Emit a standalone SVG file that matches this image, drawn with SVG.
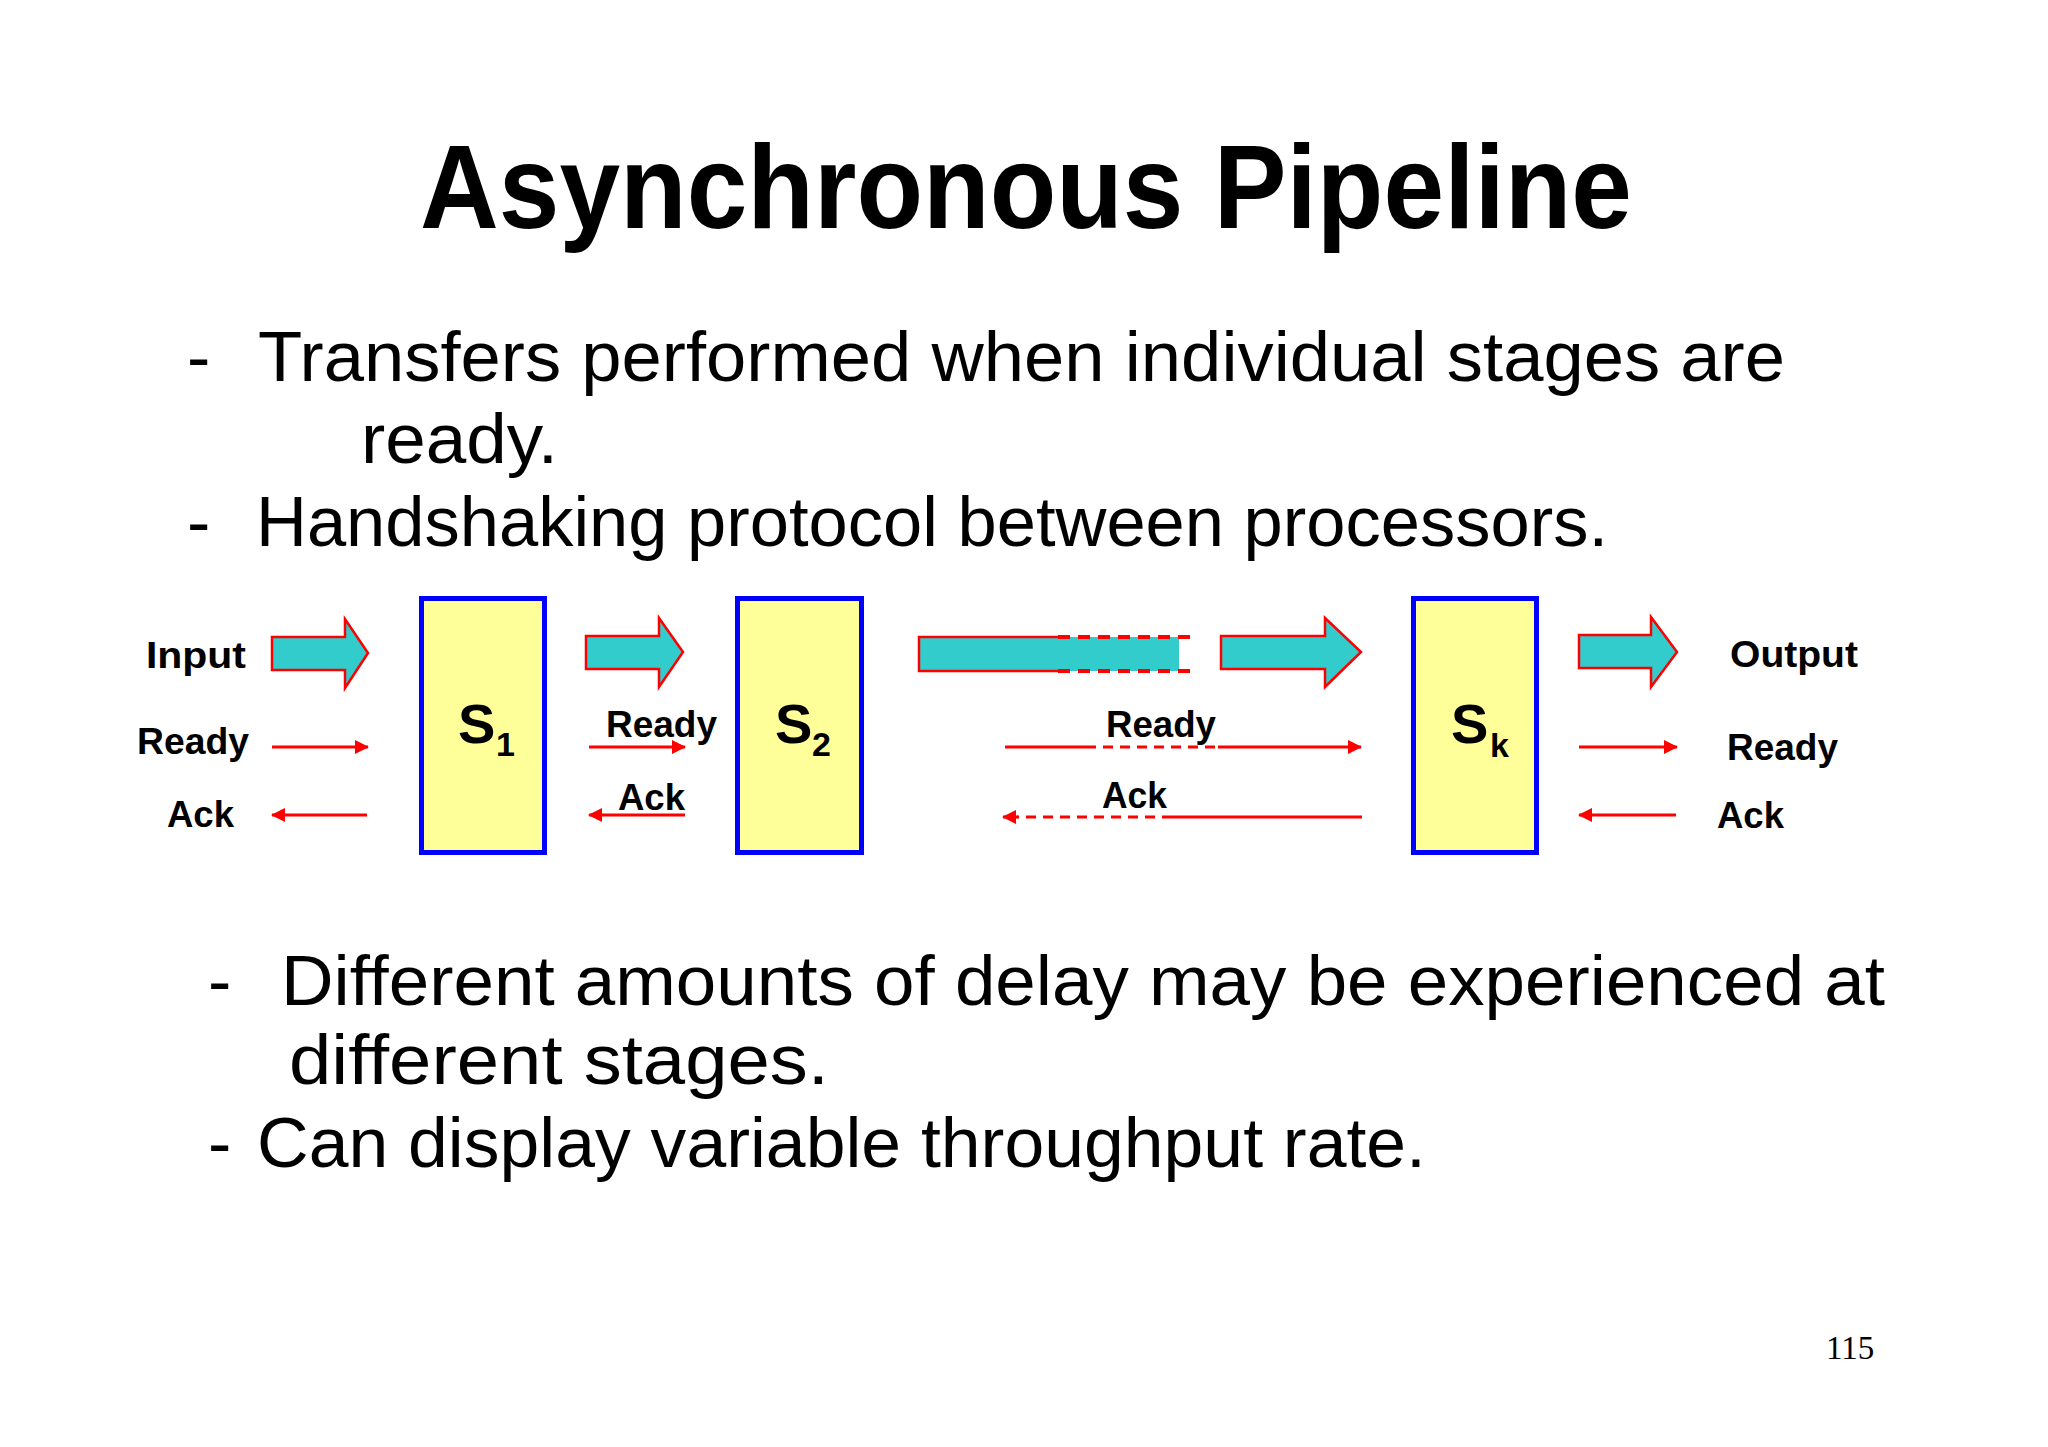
<svg xmlns="http://www.w3.org/2000/svg" width="2048" height="1447" viewBox="0 0 2048 1447">
<defs>
<style>
.title{font-family:"Liberation Sans",Arial,sans-serif;font-weight:bold;font-size:119px;fill:#000}
.body{font-family:"Liberation Sans",Arial,sans-serif;font-size:70px;fill:#000}
.lbl{font-family:"Liberation Sans",Arial,sans-serif;font-weight:bold;font-size:36px;fill:#000}
.sl{font-family:"Liberation Sans",Arial,sans-serif;font-weight:bold;font-size:56px;fill:#000}
.sub{font-size:34px}
.stage{fill:#FFFF99;stroke:#0000FF;stroke-width:5}
.fat{fill:#33CCCC;stroke:#FF0000;stroke-width:2.5;stroke-linejoin:miter}
.wire{stroke:#FF0000;stroke-width:3;fill:none}
.dash{stroke:#FF0000;stroke-width:3;fill:none;stroke-dasharray:10 7}
.bardash{stroke:#FF0000;stroke-width:4;fill:none;stroke-dasharray:12 8}
.pg{font-family:"Liberation Serif","Times New Roman",serif;font-size:33px;fill:#000}
</style>
<marker id="ah" markerUnits="userSpaceOnUse" markerWidth="14" markerHeight="14" refX="13" refY="7" orient="auto">
<path d="M0,0 L14,7 L0,14 Z" fill="#FF0000"/>
</marker>
</defs>
<rect width="2048" height="1447" fill="#FFFFFF"/>

<g id="title">
<text class="title" x="420" y="228" textLength="1212" lengthAdjust="spacingAndGlyphs">Asynchronous Pipeline</text>
</g>

<g id="bullets-top">
<text class="body" x="187" y="381">-</text>
<text class="body" x="258" y="381" textLength="1527" lengthAdjust="spacingAndGlyphs">Transfers performed when individual stages are</text>
<text class="body" x="361" y="463" textLength="197" lengthAdjust="spacingAndGlyphs">ready.</text>
<text class="body" x="187" y="546">-</text>
<text class="body" x="256" y="546" textLength="1352" lengthAdjust="spacingAndGlyphs">Handshaking protocol between processors.</text>
</g>

<g id="connectors">
<polygon class="fat" points="272,637 345,637 345,619 368,653 345,688 345,670 272,670"/>
<polygon class="fat" points="586,636 659,636 659,618 683,652 659,687 659,669 586,669"/>
<rect x="919" y="637" width="260" height="34" fill="#33CCCC"/>
<path class="fat" style="fill:none" d="M1058,637 H919 V671 H1058"/>
<path class="bardash" d="M1058,637 H1192 M1058,671 H1192"/>
<polygon class="fat" points="1221,636 1325,636 1325,618 1361,652 1325,687 1325,669 1221,669"/>
<polygon class="fat" points="1579,635 1651,635 1651,617 1677,652 1651,687 1651,668 1579,668"/>
<line class="wire" x1="272" y1="747" x2="368" y2="747" marker-end="url(#ah)"/>
<line class="wire" x1="367" y1="815" x2="272" y2="815" marker-end="url(#ah)"/>
<line class="wire" x1="589" y1="747" x2="685" y2="747" marker-end="url(#ah)"/>
<line class="wire" x1="685" y1="815" x2="589" y2="815" marker-end="url(#ah)"/>
<line class="wire" x1="1005" y1="747" x2="1086" y2="747"/>
<line class="dash" x1="1086" y1="747" x2="1218" y2="747"/>
<line class="wire" x1="1218" y1="747" x2="1361" y2="747" marker-end="url(#ah)"/>
<line class="wire" x1="1362" y1="817" x2="1172" y2="817"/>
<line class="dash" x1="1172" y1="817" x2="1017" y2="817"/>
<line class="wire" x1="1018" y1="817" x2="1003" y2="817" marker-end="url(#ah)"/>
<line class="wire" x1="1579" y1="747" x2="1677" y2="747" marker-end="url(#ah)"/>
<line class="wire" x1="1676" y1="815" x2="1579" y2="815" marker-end="url(#ah)"/>
</g>

<g id="labels-left">
<text class="lbl" x="146" y="668" textLength="100" lengthAdjust="spacingAndGlyphs">Input</text>
<text class="lbl" x="137" y="754" textLength="112" lengthAdjust="spacingAndGlyphs">Ready</text>
<text class="lbl" x="167" y="827" textLength="67" lengthAdjust="spacingAndGlyphs">Ack</text>
</g>

<g id="stage-s1">
<rect class="stage" x="421.5" y="598.5" width="123" height="254"/>
<text class="sl" x="458" y="743">S<tspan class="sub" x="496" y="756">1</tspan></text>
</g>

<g id="labels-s1-s2">
<text class="lbl" x="606" y="737" textLength="111" lengthAdjust="spacingAndGlyphs">Ready</text>
<text class="lbl" x="618" y="810" textLength="67" lengthAdjust="spacingAndGlyphs">Ack</text>
</g>

<g id="stage-s2">
<rect class="stage" x="737.5" y="598.5" width="124" height="254"/>
<text class="sl" x="775" y="743">S<tspan class="sub" x="812" y="756">2</tspan></text>
</g>

<g id="labels-mid">
<text class="lbl" x="1106" y="737" textLength="110" lengthAdjust="spacingAndGlyphs">Ready</text>
<text class="lbl" x="1102" y="808" textLength="65" lengthAdjust="spacingAndGlyphs">Ack</text>
</g>

<g id="stage-sk">
<rect class="stage" x="1413.5" y="598.5" width="123" height="254"/>
<text class="sl" x="1451" y="743">S<tspan class="sub" x="1490" y="757">k</tspan></text>
</g>

<g id="labels-right">
<text class="lbl" x="1730" y="667" textLength="128" lengthAdjust="spacingAndGlyphs">Output</text>
<text class="lbl" x="1727" y="760" textLength="111" lengthAdjust="spacingAndGlyphs">Ready</text>
<text class="lbl" x="1717" y="828" textLength="67" lengthAdjust="spacingAndGlyphs">Ack</text>
</g>

<g id="bullets-bottom">
<text class="body" x="208" y="1005">-</text>
<text class="body" x="281" y="1005" textLength="1604" lengthAdjust="spacingAndGlyphs">Different amounts of delay may be experienced at</text>
<text class="body" x="289" y="1084" textLength="540" lengthAdjust="spacingAndGlyphs">different stages.</text>
<text class="body" x="208" y="1167">-</text>
<text class="body" x="257" y="1167" textLength="1169" lengthAdjust="spacingAndGlyphs">Can display variable throughput rate.</text>
</g>

<g id="page-number">
<text class="pg" x="1826" y="1359">115</text>
</g>
</svg>
